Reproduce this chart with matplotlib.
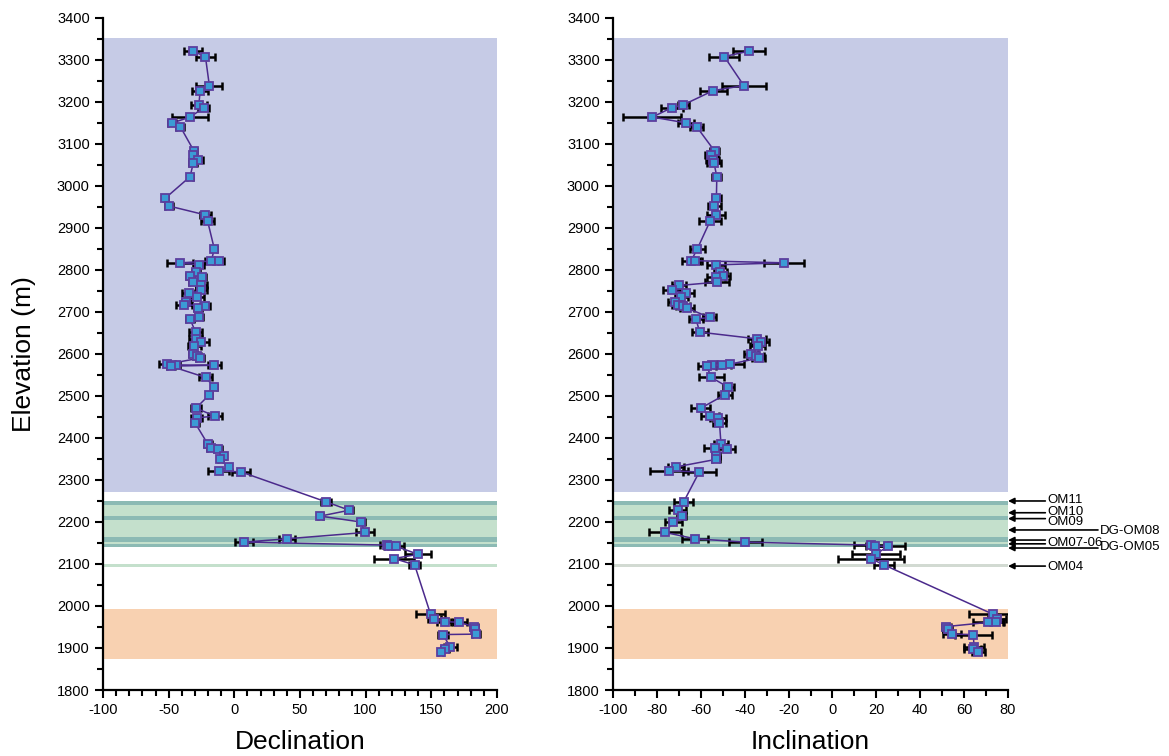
import matplotlib
matplotlib.use('Agg')
import matplotlib.pyplot as plt
from matplotlib.ticker import MultipleLocator

plt.rcParams['font.family'] = ['Liberation Sans', 'DejaVu Sans']
plt.rcParams['axes.unicode_minus'] = False

# 样品高程 (m)
elevation = [
    3321, 3308, 3239, 3227, 3193, 3186, 3164, 3150, 3141, 3083,
    3073, 3062, 3055, 3022, 2971, 2952, 2931, 2916, 2850, 2822,
    2822, 2817, 2812, 2796, 2786, 2783, 2771, 2763, 2752, 2745,
    2736, 2724, 2717, 2715, 2709, 2687, 2683, 2652, 2636, 2628,
    2619, 2599, 2595, 2590, 2576, 2574, 2573, 2571, 2544, 2521,
    2503, 2471, 2452, 2448, 2436, 2386, 2377, 2373, 2358, 2349,
    2331, 2322, 2319, 2248, 2228, 2214, 2200, 2175, 2160, 2152,
    2145, 2143, 2142, 2123, 2113, 2098, 1980, 1970, 1963, 1961,
    1951, 1945, 1933, 1932, 1902, 1898, 1891,
]

declination = [
    -31.5, -22.0, -19.0, -26.0, -27.0, -23.3, -33.7, -47.2, -41.1, -30.7,
    -31.2, -27.9, -31.2, -33.7, -52.5, -49.5, -22.0, -20.3, -15.2, -17.5,
    -12.0, -41.1, -27.0, -29.2, -33.7, -24.6, -31.2, -25.1, -25.1, -34.8,
    -28.2, -36.8, -38.1, -22.3, -27.6, -26.6, -33.7, -29.5, -29.5, -25.4,
    -30.5, -31.5, -28.7, -26.4, -51.0, -44.7, -15.4, -48.5, -21.8, -15.4,
    -19.0, -29.2, -14.7, -28.7, -29.9, -20.3, -17.5, -12.2, -8.2, -10.7,
    -4.3, -11.7, 5.3, 69.8, 87.6, 65.5, 96.2, 99.5, 40.1, 7.6,
    116.0, 117.8, 123.1, 140.1, 121.6, 137.3, 149.5, 152.3, 160.4, 171.1,
    182.2, 183.0, 184.1, 158.9, 164.5, 160.7, 157.1,
]

declination_err = [
    7, 7, 10, 6, 6, 4, 13.6, 3, 3, 2,
    2, 4, 3, 2, 2, 3, 4, 5, 2, 5,
    4, 10, 4, 3, 3, 3, 3, 4, 4, 5,
    5, 3, 6, 4, 3, 3, 3, 5, 5, 6,
    5, 3, 3, 3, 6, 3, 5, 3, 5, 2,
    2, 4, 5, 4, 3, 3, 3, 3, 2, 2,
    2, 8, 7, 4, 3, 2, 3, 7, 6, 7,
    5, 4, 6, 10, 15, 4, 11, 5, 6, 6,
    3, 2, 3, 4, 5, 3, 2,
]

inclination = [
    -38.0, -49.3, -40.4, -54.3, -68.0, -73.3, -82.1, -66.7, -61.9, -53.7,
    -55.3, -54.5, -54.0, -52.7, -52.9, -53.8, -53.2, -55.8, -61.6, -64.4,
    -62.6, -22.1, -53.2, -51.2, -49.7, -53.1, -52.5, -69.9, -73.0, -66.6,
    -68.9, -71.6, -70.2, -68.1, -66.3, -55.9, -62.2, -60.5, -34.4, -32.7,
    -34.1, -37.1, -35.0, -33.6, -46.5, -50.2, -55.0, -57.3, -55.2, -47.6,
    -49.0, -60.0, -55.9, -52.1, -51.5, -50.8, -53.5, -48.2, -53.1, -53.1,
    -71.4, -74.5, -60.7, -67.8, -70.5, -68.7, -72.5, -76.2, -62.6, -39.7,
    17.5, 19.4, 25.2, 19.7, 17.4, 23.4, 73.3, 75.0, 74.6, 71.1,
    51.8, 52.5, 54.4, 64.2, 64.5, 63.9, 66.5,
]

inclination_err = [
    7.2, 6.9, 10, 6.2, 2.4, 5, 13.3, 3.8, 3, 2,
    3, 3, 3, 2, 2, 3, 4, 5, 3.5, 4,
    3, 9.3, 4, 3, 3, 4, 5.5, 3, 4, 3.5,
    3, 3.5, 3, 3, 3, 3, 3.4, 3.6, 4, 4,
    3.5, 3, 4, 3, 6, 4, 4, 4, 5.7, 2.5,
    3, 4.3, 4, 3.5, 3, 3, 5, 4, 2, 2,
    3.6, 8.7, 7.4, 4.3, 3.9, 2, 3.8, 7.3, 6, 7.4,
    7.9, 4, 7.9, 10.9, 15, 4.5, 11.3, 4, 3, 7,
    2, 2, 4, 8.4, 4.5, 4, 3,
]

# 地层色带
blue_band = (2271, 3352)
green_band = (2140, 2250)
teal_lines = [(2240, 2250), (2205, 2214), (2153, 2165), (2140, 2147)]
thin_green = (2093, 2100)
orange_band = (1874, 1993)

# 右侧样品标注
site_labels = ['OM11', 'OM10', 'OM09', 'DG-OM08', 'OM07-06', '', 'DG-OM05', 'OM04']
site_elev = [2250, 2222, 2208, 2181, 2157, 2148, 2138, 2095]
label_elev = [2253, 2224, 2199, 2178, 2150, None, 2140, 2092]
long_arrow = [False, False, False, True, False, False, True, False]


def draw_bands(ax, thin_color):
    ax.axhspan(*blue_band, color='#c6cbe6', lw=0, zorder=0)
    ax.axhspan(*green_band, color='#c4e0cc', lw=0, zorder=0)
    for lo, hi in teal_lines:
        ax.axhspan(lo, hi, color='#8cbab4', lw=0, zorder=0)
    ax.axhspan(*thin_green, color=thin_color, lw=0, zorder=0)
    ax.axhspan(*orange_band, color='#f8d1b1', lw=0, zorder=0)


def draw_series(ax, x, xerr):
    ax.errorbar(x, elevation, xerr=xerr, fmt='none', ecolor='black',
                elinewidth=1.8, capsize=3.2, capthick=1.8, zorder=2)
    ax.plot(x, elevation, '-', color='#4b2a8c', lw=1.1, zorder=3)
    ax.plot(x, elevation, 's', ms=6, mfc='#3b9bd5', mec='#5c3f9f',
            mew=1.3, zorder=4)


def style_axis(ax, xlim, xmajor, xminor, xlabel):
    ax.set_xlim(*xlim)
    ax.set_ylim(1800, 3400)
    ax.xaxis.set_major_locator(MultipleLocator(xmajor))
    ax.xaxis.set_minor_locator(MultipleLocator(xminor))
    ax.yaxis.set_major_locator(MultipleLocator(100))
    ax.yaxis.set_minor_locator(MultipleLocator(50))
    for side in ['top', 'right']:
        ax.spines[side].set_visible(False)
    for side in ['left', 'bottom']:
        ax.spines[side].set_linewidth(1.6)
    ax.tick_params(which='major', length=6, width=1.5, labelsize=10.5)
    ax.tick_params(which='minor', length=4, width=1.5)
    ax.set_xlabel(xlabel, fontsize=19, labelpad=9)


fig = plt.figure(figsize=(11.69, 7.56), dpi=100)
ax1 = fig.add_axes([0.0881, 0.0873, 0.337, 0.889])
ax2 = fig.add_axes([0.5244, 0.0873, 0.3379, 0.889])

draw_bands(ax1, '#c4e0cc')
draw_series(ax1, declination, declination_err)
style_axis(ax1, (-100, 200), 50, 10, 'Declination')
ax1.set_ylabel('Elevation (m)', fontsize=19, labelpad=15)

draw_bands(ax2, '#d2dad2')
draw_series(ax2, inclination, inclination_err)
style_axis(ax2, (-100, 80), 20, 10, 'Inclination')

for lab, ye, yl, lng in zip(site_labels, site_elev, label_elev, long_arrow):
    x_tail = 121 if lng else 97
    ax2.annotate('', xy=(80, ye), xytext=(x_tail, ye),
                 arrowprops=dict(arrowstyle='-|>', color='black', lw=1.2,
                                 mutation_scale=9, shrinkA=0, shrinkB=0),
                 annotation_clip=False)
    if lab:
        ax2.text(x_tail + 1, yl, lab, fontsize=9.5, va='center', ha='left',
                 clip_on=False)

fig.savefig('out.png', dpi=100)
